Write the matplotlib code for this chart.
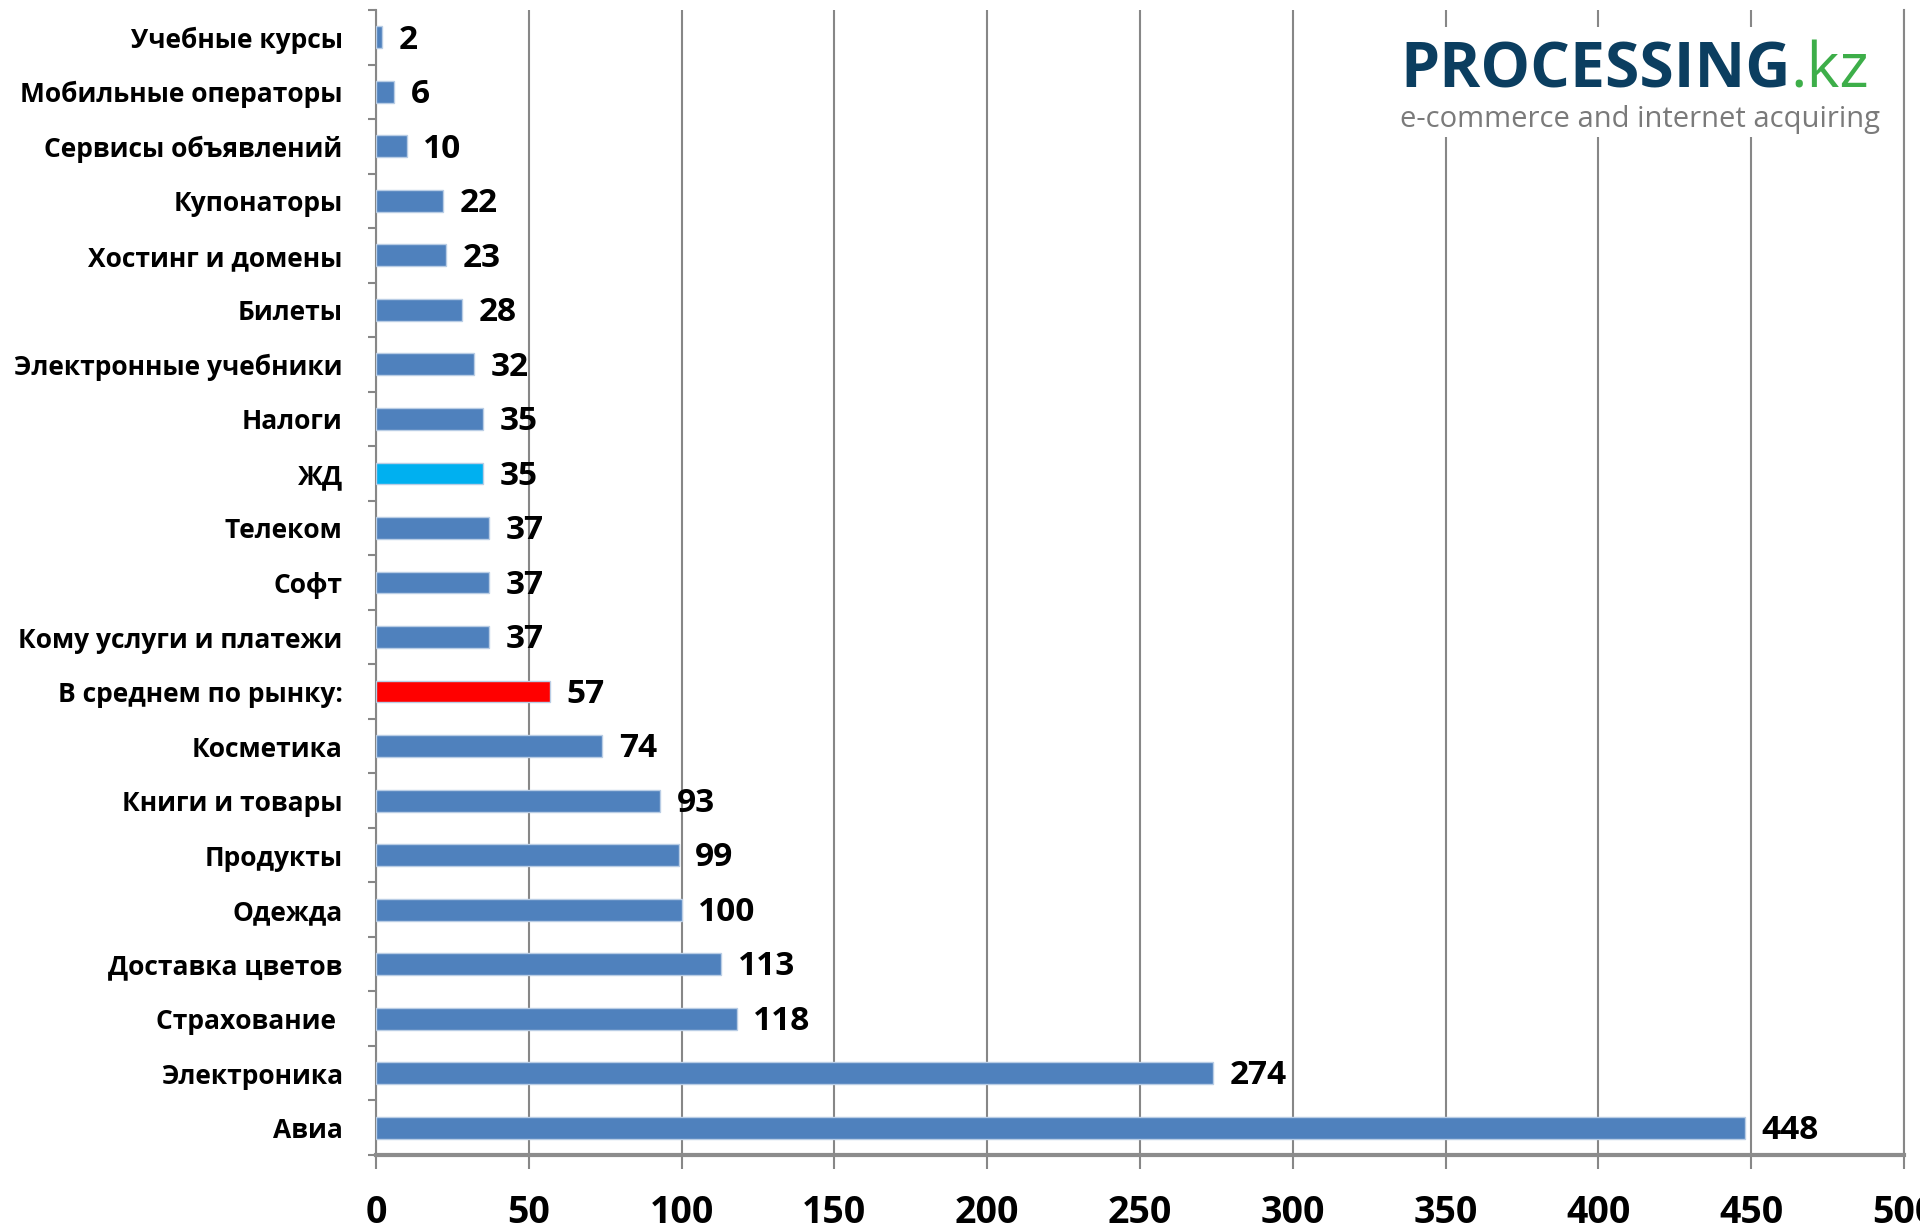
import matplotlib
matplotlib.use("Agg")
import matplotlib.pyplot as plt
from matplotlib.patches import Rectangle
from matplotlib.text import Annotation
from matplotlib.ticker import MultipleLocator

categories = [
    "Авиа", "Электроника", "Страхование ", "Доставка цветов", "Одежда",
    "Продукты", "Книги и товары", "Косметика", "В среднем по рынку:",
    "Кому услуги и платежи", "Софт", "Телеком", "ЖД", "Налоги",
    "Электронные учебники", "Билеты", "Хостинг и домены", "Купонаторы",
    "Сервисы объявлений", "Мобильные операторы", "Учебные курсы",
]
values = [448, 274, 118, 113, 100, 99, 93, 74, 57, 37, 37, 37, 35, 35, 32, 28, 23, 22, 10, 6, 2]
x_ticks = [0, 50, 100, 150, 200, 250, 300, 350, 400, 450, 500]

highlight = {"В среднем по рынку:": "#FF0000", "ЖД": "#00B0F0"}
base_color = "#4F81BD"
colors = [highlight.get(c, base_color) for c in categories]

plt.rcParams["font.family"] = ["Open Sans", "DejaVu Sans"]

W, H = 1920, 1229
fig = plt.figure(figsize=(W / 100, H / 100), dpi=100)
left, right, top, bottom = 376, 1904, 10, 1155
ax = fig.add_axes([left / W, 1 - bottom / H, (right - left) / W, (bottom - top) / H])

y = list(range(len(categories)))
ax.barh(y, values, height=0.4, color=colors, edgecolor="#B9CDE5", linewidth=1.0, zorder=3)

ax.set_xlim(x_ticks[0], x_ticks[-1])
ax.set_ylim(-0.5, len(categories) - 0.5)
ax.set_xticks(x_ticks)
ax.set_xticklabels([str(t) for t in x_ticks], fontsize=27, fontweight="bold")
ax.set_yticks(y)
ax.set_yticklabels(categories, fontsize=19, fontweight="bold")
ax.yaxis.set_minor_locator(MultipleLocator(1, offset=0.5))
ax.tick_params(axis="y", which="major", length=0, pad=24)
ax.tick_params(axis="y", which="minor", length=6, width=1.5, color="#878787", direction="out")
ax.tick_params(axis="x", which="major", length=10, width=1.5, color="#878787", pad=18)

ax.grid(axis="x", color="#878787", linewidth=1.5, zorder=0)
ax.set_axisbelow(True)
ax.spines["top"].set_visible(False)
ax.spines["right"].set_color("#878787")
ax.spines["right"].set_linewidth(1.5)
ax.spines["left"].set_color("#878787")
ax.spines["left"].set_linewidth(1.5)
ax.spines["bottom"].set_color("#8C8C8C")
ax.spines["bottom"].set_linewidth(3)

for yi, v in zip(y, values):
    ax.annotate(str(v), xy=(v, yi), xytext=(12, -2), textcoords="offset points",
                ha="left", va="center", fontsize=24, fontweight="bold", color="black", zorder=4)

# logo
fig.patches.append(Rectangle((1380 / W, 1 - 137 / H), 512 / W, 110 / H,
                             transform=fig.transFigure, facecolor="white", edgecolor="none",
                             zorder=5))
t = fig.text(1400 / W, 1 - 87 / H, "PROCESSING", fontsize=45, fontweight="bold",
             color="#0B3E60", ha="left", va="baseline", zorder=6)
kz = Annotation(".kz", xy=(1, 0), xycoords=t, ha="left", va="bottom", fontsize=45,
                color="#3DAE49", zorder=6, annotation_clip=False)
fig.add_artist(kz)
fig.text(1400 / W, 1 - 127 / H, "e-commerce and internet acquiring", fontsize=21,
         color="#7A7A7A", ha="left", va="baseline", zorder=6)

fig.savefig("out.png", dpi=100, facecolor="white")
